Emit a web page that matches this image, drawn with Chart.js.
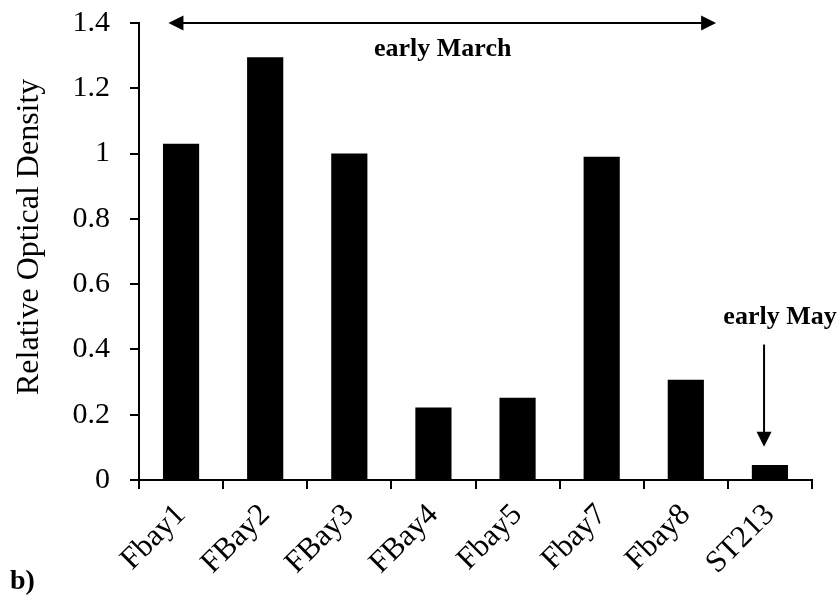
<!DOCTYPE html>
<html>
<head>
<meta charset="utf-8">
<script src="https://cdn.jsdelivr.net/npm/chart.js@4/dist/chart.umd.min.js"></script>
<style>
  html, body { margin: 0; padding: 0; background: #fff; }
  #wrap { width: 840px; height: 597px; }
</style>
</head>
<body>
<div id="wrap"><canvas id="chart"></canvas></div>
<script>
const samples = ['Fbay1', 'FBay2', 'FBay3', 'FBay4', 'Fbay5', 'Fbay7', 'Fbay8', 'ST213'];
const density = [1.03, 1.295, 1.0, 0.222, 0.252, 0.99, 0.307, 0.046];
const yTicks = [0, 0.2, 0.4, 0.6, 0.8, 1, 1.2, 1.4];
const yTitle = 'Relative Optical Density';

// annotation anchors in data units (category index, value)
const marchArrow = { x0: -0.15, x1: 6.36, y: 1.4 };
const marchLabel = { text: 'early March', x: 3.11, y: 1.318 };
const mayArrow = { x: 6.93, y0: 0.415, y1: 0.102 };
const mayLabel = { text: 'early May', x: 7.12, y: 0.497 };
const panelLabel = 'b)';

const serif = "'Liberation Serif', 'Times New Roman', serif";

function arrowHead(ctx, x, y, angle) {
  const len = 15, half = 7.5;
  ctx.save();
  ctx.translate(x, y);
  ctx.rotate(angle);
  ctx.beginPath();
  ctx.moveTo(0, 0);
  ctx.lineTo(-len, -half);
  ctx.lineTo(-len, half);
  ctx.closePath();
  ctx.fill();
  ctx.restore();
}

const annotations = {
  id: 'annotations',
  afterDraw(chart) {
    const ctx = chart.ctx;
    const xs = chart.scales.x, ys = chart.scales.y;
    ctx.save();
    ctx.strokeStyle = '#000';
    ctx.fillStyle = '#000';
    ctx.lineWidth = 2;

    // early March double arrow
    const ax0 = xs.getPixelForValue(marchArrow.x0), ax1 = xs.getPixelForValue(marchArrow.x1);
    const ay = ys.getPixelForValue(marchArrow.y);
    ctx.beginPath();
    ctx.moveTo(ax0 + 10, ay);
    ctx.lineTo(ax1 - 10, ay);
    ctx.stroke();
    arrowHead(ctx, ax0, ay, Math.PI);
    arrowHead(ctx, ax1, ay, 0);

    // early May arrow
    const mx = xs.getPixelForValue(mayArrow.x);
    const my0 = ys.getPixelForValue(mayArrow.y0), my1 = ys.getPixelForValue(mayArrow.y1);
    ctx.beginPath();
    ctx.moveTo(mx, my0);
    ctx.lineTo(mx, my1 - 10);
    ctx.stroke();
    arrowHead(ctx, mx, my1, Math.PI / 2);

    ctx.font = 'bold 26px ' + serif;
    ctx.textAlign = 'center';
    ctx.textBaseline = 'middle';
    ctx.fillText(marchLabel.text, xs.getPixelForValue(marchLabel.x), ys.getPixelForValue(marchLabel.y));
    ctx.fillText(mayLabel.text, xs.getPixelForValue(mayLabel.x), ys.getPixelForValue(mayLabel.y));

    // y axis title, sits a little above the plot's middle like the original
    ctx.save();
    ctx.translate(30, ys.getPixelForValue(0.745));
    ctx.rotate(-Math.PI / 2);
    ctx.font = '32px ' + serif;
    ctx.fillText(yTitle, 0, 0);
    ctx.restore();

    ctx.font = 'bold 28px ' + serif;
    ctx.textAlign = 'left';
    ctx.textBaseline = 'alphabetic';
    ctx.fillText(panelLabel, 10, 589);
    ctx.restore();
  }
};

const chart = new Chart(document.getElementById('chart'), {
  type: 'bar',
  data: {
    labels: samples,
    datasets: [{
      data: density,
      backgroundColor: '#000',
      borderWidth: 0,
      barPercentage: 0.43,
      categoryPercentage: 1
    }]
  },
  options: {
    responsive: true,
    maintainAspectRatio: false,
    animation: false,
    layout: { padding: { left: 0, right: 28, top: 23, bottom: 0 } },
    plugins: { legend: { display: false }, tooltip: { enabled: false } },
    scales: {
      x: {
        grid: { drawOnChartArea: false, drawTicks: true, tickLength: 9, color: '#000', lineWidth: 2, offset: true },
        border: { color: '#000', width: 2 },
        ticks: {
          color: '#000', font: { family: serif, size: 31 },
          minRotation: 45, maxRotation: 45, autoSkip: false, padding: 8
        },
        afterFit(scale) { scale.height = 117; scale.paddingLeft = 0; scale.paddingRight = 0; }
      },
      y: {
        min: 0, max: 1.4,
        afterBuildTicks(scale) { scale.ticks = yTicks.map(v => ({ value: v })); },
        grid: { drawOnChartArea: false, drawTicks: true, tickLength: 9, color: '#000', lineWidth: 2 },
        border: { color: '#000', width: 2 },
        ticks: {
          color: '#000', font: { family: serif, size: 30 }, padding: 20,
          callback: v => String(Math.round(v * 10) / 10)
        },
        afterFit(scale) { scale.width = 139; scale.paddingTop = 0; scale.paddingBottom = 0; }
      }
    }
  },
  plugins: [annotations]
});
</script>
</body>
</html>
